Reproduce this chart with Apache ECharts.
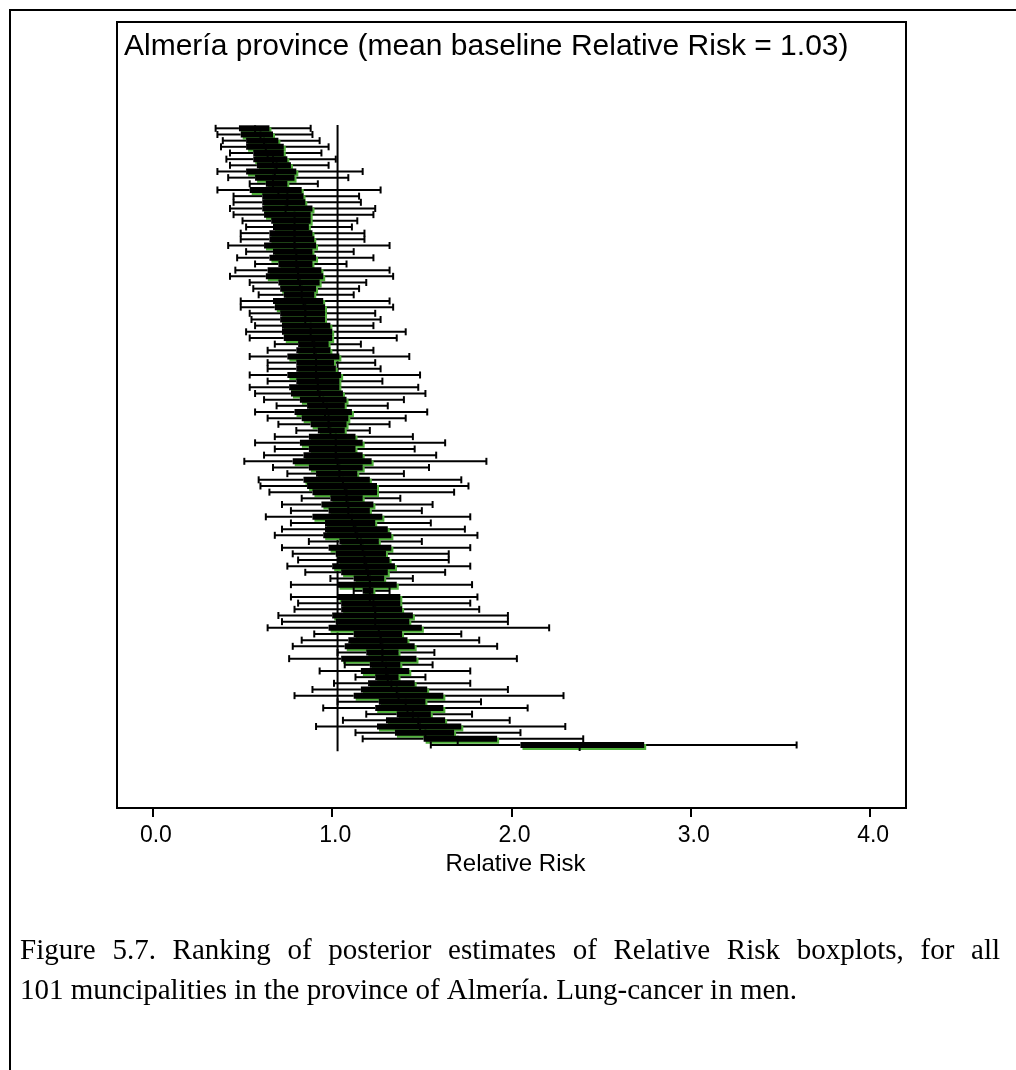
<!DOCTYPE html>
<html>
<head>
<meta charset="utf-8">
<script src="https://cdn.jsdelivr.net/npm/echarts@6/dist/echarts.min.js"></script>
<style>html,body{margin:0;padding:0;background:#fff}#c{width:1016px;height:1070px}</style>
</head>
<body>
<div id="c"></div>
<script>
// Boxplot statistics per municipality (ranked by median), Relative Risk
const whiskerLow = [0.35,0.36,0.39,0.38,0.43,0.41,0.43,0.36,0.42,0.54,
0.36,0.45,0.45,0.43,0.45,0.50,0.52,0.49,0.49,0.42,
0.52,0.47,0.57,0.46,0.43,0.54,0.56,0.59,0.49,0.49,
0.54,0.55,0.57,0.52,0.54,0.68,0.64,0.54,0.64,0.64,
0.54,0.64,0.54,0.57,0.62,0.69,0.57,0.64,0.70,0.80,
0.68,0.57,0.68,0.62,0.51,0.67,0.75,0.59,0.60,0.65,
0.83,0.72,0.77,0.63,0.77,0.72,0.68,0.87,0.72,0.78,
0.81,0.75,0.85,0.99,0.77,1.12,0.77,0.81,0.79,0.70,
0.72,0.64,0.90,0.83,0.78,1.03,0.76,1.07,0.93,1.13,
1.01,0.89,0.79,1.03,0.95,1.19,1.06,0.91,1.13,1.17,1.55];
const quartile1 = [0.48,0.49,0.52,0.52,0.56,0.56,0.58,0.52,0.57,0.63,
0.54,0.61,0.61,0.61,0.62,0.66,0.67,0.65,0.65,0.62,
0.67,0.65,0.70,0.64,0.63,0.70,0.71,0.73,0.67,0.68,
0.71,0.71,0.72,0.72,0.73,0.81,0.80,0.75,0.80,0.80,
0.75,0.80,0.76,0.77,0.82,0.86,0.79,0.83,0.88,0.92,
0.87,0.82,0.87,0.84,0.78,0.87,0.91,0.84,0.86,0.89,
0.99,0.94,0.98,0.89,0.96,0.96,0.95,1.04,0.98,1.02,
1.03,1.00,1.05,1.12,1.03,1.17,1.03,1.05,1.05,1.00,
1.02,0.98,1.12,1.09,1.07,1.19,1.05,1.21,1.16,1.24,
1.20,1.16,1.12,1.26,1.24,1.36,1.30,1.25,1.35,1.51,2.05];
const medianRR = [0.57,0.60,0.62,0.63,0.64,0.67,0.69,0.68,0.67,0.67,
0.70,0.75,0.75,0.74,0.79,0.79,0.79,0.79,0.79,0.79,
0.80,0.80,0.80,0.81,0.81,0.82,0.83,0.83,0.84,0.85,
0.85,0.85,0.88,0.88,0.89,0.90,0.90,0.91,0.91,0.91,
0.91,0.92,0.92,0.93,0.95,0.97,0.96,0.98,0.98,0.99,
1.02,1.02,1.02,1.02,1.03,1.04,1.04,1.06,1.07,1.08,
1.08,1.09,1.09,1.11,1.12,1.13,1.14,1.16,1.17,1.18,
1.18,1.19,1.20,1.21,1.21,1.21,1.21,1.23,1.24,1.24,
1.24,1.26,1.27,1.27,1.28,1.28,1.28,1.30,1.30,1.31,
1.33,1.36,1.37,1.41,1.42,1.45,1.48,1.49,1.52,1.70,2.38];
const quartile3 = [0.65,0.67,0.70,0.73,0.73,0.75,0.77,0.80,0.79,0.75,
0.83,0.84,0.85,0.89,0.88,0.88,0.87,0.89,0.90,0.91,
0.89,0.91,0.89,0.94,0.95,0.93,0.91,0.90,0.95,0.96,
0.96,0.96,0.99,1.00,1.00,0.98,0.99,1.04,1.01,1.02,
1.05,1.04,1.04,1.06,1.08,1.07,1.11,1.09,1.08,1.07,
1.13,1.17,1.13,1.17,1.22,1.17,1.14,1.21,1.25,1.25,
1.17,1.23,1.21,1.28,1.24,1.31,1.33,1.26,1.33,1.30,
1.32,1.35,1.31,1.29,1.36,1.23,1.38,1.38,1.39,1.45,
1.43,1.50,1.39,1.42,1.46,1.37,1.47,1.38,1.43,1.37,
1.46,1.53,1.62,1.52,1.62,1.55,1.63,1.72,1.68,1.92,2.74];
const whiskerHigh = [0.88,0.89,0.93,0.98,0.94,1.02,0.98,1.17,1.09,0.92,
1.27,1.15,1.16,1.24,1.23,1.14,1.11,1.18,1.18,1.32,
1.12,1.23,1.08,1.32,1.34,1.19,1.15,1.12,1.32,1.34,
1.24,1.27,1.23,1.41,1.36,1.16,1.23,1.43,1.24,1.27,
1.49,1.28,1.48,1.52,1.40,1.31,1.53,1.41,1.32,1.21,
1.45,1.63,1.46,1.58,1.86,1.54,1.40,1.72,1.76,1.68,
1.38,1.56,1.50,1.77,1.55,1.74,1.81,1.50,1.77,1.65,
1.65,1.77,1.63,1.45,1.78,1.32,1.81,1.77,1.82,1.98,
1.98,2.21,1.72,1.82,1.92,1.57,2.03,1.56,1.77,1.52,
1.77,1.98,2.29,1.83,2.09,1.78,1.99,2.30,2.05,2.40,3.59];
const xTickValues = [0, 1, 2, 3, 4];
const baselineRR = 1.03;
const titleText = 'Almería province (mean baseline Relative Risk = 1.03)';
const axisTitle = 'Relative Risk';
const captionLines = [
  'Figure 5.7. Ranking of posterior estimates of Relative Risk boxplots, for all',
  '101 muncipalities in the province of Almería. Lung-cancer in men.'
];

const rows = whiskerLow.map((v, i) => [i + 1, v, quartile1[i], medianRR[i], quartile3[i], whiskerHigh[i]]);

const chart = echarts.init(document.getElementById('c'), null, {renderer: 'canvas'});
const BOX_H = 6, SHADOW = 2, CAP_H = 7;
const SANS = '"Liberation Sans", Arial, sans-serif';
const SERIF = '"Liberation Serif", "Times New Roman", serif';
const CAPTION_FONT = '29px ' + SERIF;

// Justified first caption line (as in the source document)
const measureCtx = document.createElement('canvas').getContext('2d');
measureCtx.font = CAPTION_FONT;
function justifiedWords(line, x0, x1, y) {
  const words = line.split(' ');
  const widths = words.map(w => measureCtx.measureText(w).width);
  const total = widths.reduce((a, b) => a + b, 0);
  const gap = (x1 - x0 - total) / (words.length - 1);
  let x = x0;
  return words.map((w, i) => {
    const el = {type: 'text', silent: true, x: x, y: y,
      style: {text: w, font: CAPTION_FONT, fill: '#000', verticalAlign: 'middle'}};
    x += widths[i] + gap;
    return el;
  });
}

chart.setOption({
  animation: false,
  backgroundColor: '#fff',
  title: {
    text: titleText, left: 124, top: 32, padding: 0,
    textStyle: {fontFamily: SANS, fontSize: 30, fontWeight: 'normal', color: '#000'}
  },
  grid: {left: 117, right: 110, top: 22, bottom: 262, show: true, borderColor: '#000', borderWidth: 2, backgroundColor: 'transparent'},
  xAxis: {
    type: 'value', min: -0.2, max: 4.2,
    axisLine: {show: true, onZero: false, lineStyle: {color: '#000', width: 2}},
    axisTick: {show: true, length: 9, customValues: xTickValues, lineStyle: {color: '#000', width: 2}},
    axisLabel: {customValues: xTickValues, formatter: v => Number(v).toFixed(1), align: 'center', margin: 16,
      padding: [0, 0, 0, 6], fontFamily: SANS, fontSize: 23, color: '#000'},
    splitLine: {show: false},
    name: axisTitle, nameLocation: 'middle', nameGap: 38,
    nameTextStyle: {fontFamily: SANS, fontSize: 24, color: '#000', padding: [0, 0, 0, 8]}
  },
  yAxis: {
    type: 'value', inverse: true, min: -16.24, max: 111.22,
    show: false, splitLine: {show: false}
  },
  series: [
    {
      type: 'line', silent: true, symbol: 'none', z: 1,
      data: [[baselineRR, 0.46], [baselineRR, 102]],
      lineStyle: {color: '#000', width: 2}
    },
    {
      type: 'custom', z: 2, silent: true,
      data: rows,
      encode: {x: [1, 2, 3, 4, 5], y: 0},
      renderItem: function (params, api) {
        const r = api.value(0);
        const pLo = api.coord([api.value(1), r]);
        const pQ1 = api.coord([api.value(2), r]);
        const pMd = api.coord([api.value(3), r]);
        const pQ3 = api.coord([api.value(4), r]);
        const pHi = api.coord([api.value(5), r]);
        const y = pLo[1];
        const ls = {stroke: '#000', lineWidth: 2};
        const w = pQ3[0] - pQ1[0];
        return {
          type: 'group',
          children: [
            {type: 'line', shape: {x1: pLo[0], y1: y, x2: pQ1[0], y2: y}, style: ls},
            {type: 'line', shape: {x1: pQ3[0], y1: y, x2: pHi[0], y2: y}, style: ls},
            {type: 'line', shape: {x1: pLo[0], y1: y - CAP_H / 2, x2: pLo[0], y2: y + CAP_H / 2}, style: ls},
            {type: 'line', shape: {x1: pHi[0], y1: y - CAP_H / 2, x2: pHi[0], y2: y + CAP_H / 2}, style: ls},
            {type: 'rect', shape: {x: pQ1[0] + SHADOW, y: y - BOX_H / 2 + SHADOW, width: w, height: BOX_H},
              style: {fill: '#4fb03a'}},
            {type: 'rect', shape: {x: pQ1[0], y: y - BOX_H / 2, width: w, height: BOX_H},
              style: {fill: '#000'}},
            {type: 'line', shape: {x1: pMd[0], y1: y - BOX_H / 2, x2: pMd[0], y2: y + BOX_H / 2 + SHADOW + 1}, style: ls}
          ]
        };
      }
    }
  ],
  graphic: [
    {type: 'polyline', silent: true, shape: {points: [[10, 1070], [10, 10], [1016, 10]]},
      style: {stroke: '#000', lineWidth: 2, fill: null}}
  ].concat(justifiedWords(captionLines[0], 20, 1000, 951)).concat([
    {type: 'text', silent: true, x: 20, y: 991,
      style: {text: captionLines[1], font: CAPTION_FONT, fill: '#000', verticalAlign: 'middle'}}
  ])
});
</script>
</body>
</html>
